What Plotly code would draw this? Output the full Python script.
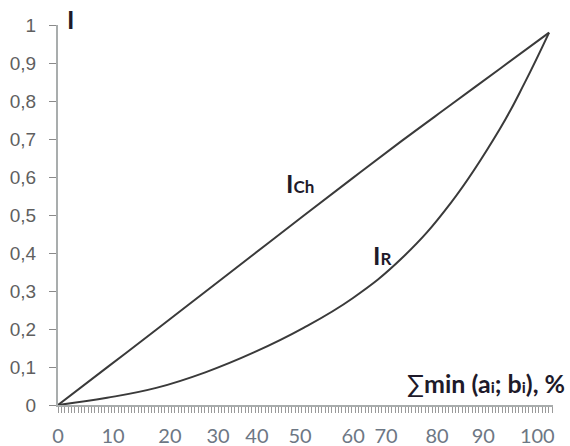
import plotly.graph_objects as go

# I_Ch curve
x_ch = [0, 10, 20, 30, 40, 50, 60, 70, 80, 90, 100]
y_ch = [0, 0.099, 0.198, 0.298, 0.398, 0.498, 0.597, 0.695, 0.790, 0.885, 0.98]

# I_R curve
x_r = [0, 10, 20, 30, 40, 50, 60, 70, 80, 90, 95, 100]
y_r = [0, 0.019, 0.045, 0.086, 0.139, 0.203, 0.281, 0.386, 0.532, 0.727, 0.847, 0.98]

# x tick labels and where they sit in the picture (irregularly spaced)
x_tick_text = ["0", "10", "20", "30", "40", "50", "60", "70", "80", "90", "100"]
x_tick_pos = [0, 11.2, 22.8, 32.6, 40.5, 49.3, 60.1, 66.8, 77.2, 86.6, 97.6]

# y ticks
y_tick_vals = [0, 0.1, 0.2, 0.3, 0.4, 0.5, 0.6, 0.7, 0.8, 0.9, 1]
y_tick_text = ["0", "0,1", "0,2", "0,3", "0,4", "0,5", "0,6", "0,7", "0,8", "0,9", "1"]

line_col = "#3a3a3a"
axis_col = "#a9adad"

fig = go.Figure()
fig.add_trace(go.Scatter(x=x_ch, y=y_ch, mode="lines", line=dict(color=line_col, width=2, shape="spline", smoothing=1),
                         showlegend=False, hoverinfo="skip"))
fig.add_trace(go.Scatter(x=x_r, y=y_r, mode="lines", line=dict(color=line_col, width=2, shape="spline", smoothing=1.2),
                         showlegend=False, hoverinfo="skip"))

fig.update_layout(
    width=570, height=446,
    margin=dict(l=58, r=17, t=25, b=41, autoexpand=False),
    paper_bgcolor="white", plot_bgcolor="white",
    xaxis=dict(
        range=[0, 100.8], showgrid=False, zeroline=False, automargin=False,
        showline=True, linecolor=axis_col, linewidth=2,
        tickmode="array", tickvals=x_tick_pos, ticktext=x_tick_text,
        ticks="", ticklabelstandoff=12,
        tickfont=dict(family="Lato", size=20, color="#6d7784"),
        minor=dict(ticks="outside", ticklen=6, tickcolor="#9a9a9a", tickwidth=1,
                   tickmode="linear", tick0=0, dtick=0.68, showgrid=False),
    ),
    yaxis=dict(
        range=[0, 1], showgrid=False, zeroline=False, automargin=False,
        showline=True, linecolor=axis_col, linewidth=2,
        tickmode="array", tickvals=y_tick_vals, ticktext=y_tick_text,
        ticks="outside", ticklen=7, tickcolor="#8a8a8a", tickwidth=1,
        ticklabelstandoff=9,
        tickfont=dict(family="Liberation Sans", size=19, color="#5f5f5f"),
    ),
)

dark = "#1e1a2a"
fig.add_annotation(xref="paper", yref="paper", x=12 / 495, y=1 + 6 / 380, text="<b>I</b>",
                   showarrow=False, font=dict(family="Lato", size=25, color=dark),
                   xanchor="center", yanchor="middle")
fig.add_annotation(x=46.0, y=0.585, text="<b>I</b><span style='font-size:17px'><b>Ch</b></span>",
                   showarrow=False, font=dict(family="Lato", size=25, color=dark),
                   xanchor="left", yanchor="middle")
fig.add_annotation(x=63.8, y=0.395, text="<b>I</b><span style='font-size:17px'><b>R</b></span>",
                   showarrow=False, font=dict(family="Lato", size=25, color=dark),
                   xanchor="left", yanchor="middle")
fig.add_annotation(xref="paper", yref="paper", x=1 + 14 / 495, y=22 / 380,
                   text="∑<b>min (a<span style='font-size:16px'>i</span>; b<span style='font-size:16px'>i</span>), %</b>",
                   showarrow=False, font=dict(family="Lato", size=25, color=dark),
                   xanchor="right", yanchor="middle")

fig.write_html("out.html")
